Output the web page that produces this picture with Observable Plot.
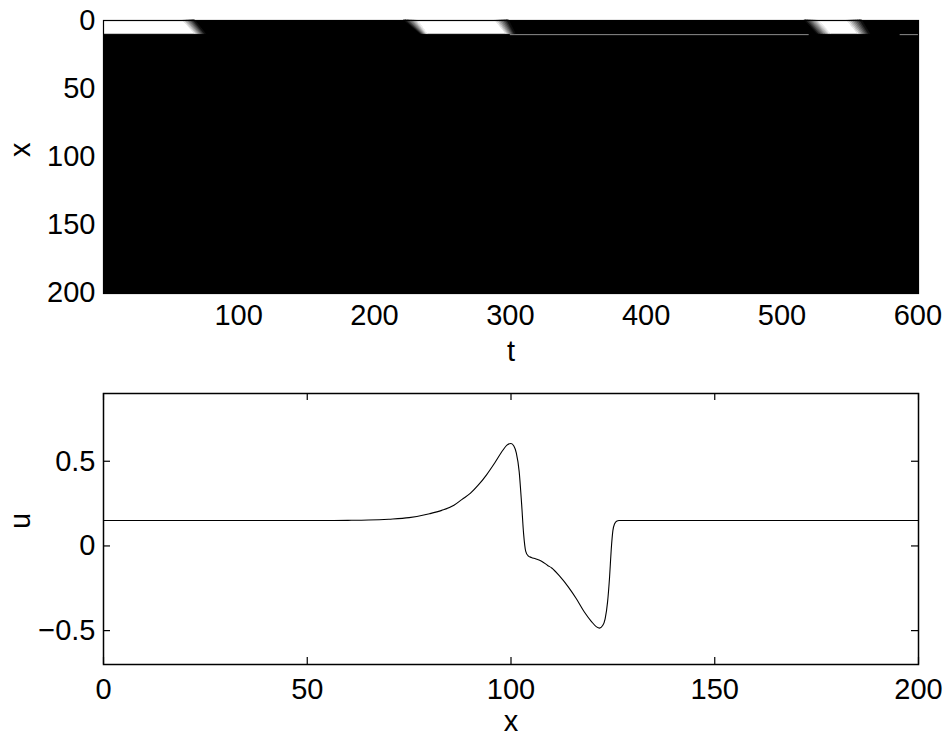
<!DOCTYPE html>
<html>
<head>
<meta charset="utf-8">
<script src="https://cdn.jsdelivr.net/npm/d3@7"></script>
<script src="https://cdn.jsdelivr.net/npm/@observablehq/plot@0.6"></script>
<style>
  body { margin: 0; background: #fff; }
  #chart { width: 950px; }
  #chart svg { display: block; }
</style>
</head>
<body>
<div id="chart"></div>
<script>
const FONT = '"Liberation Sans", Arial, Helvetica, sans-serif';

// ---- space–time map u(x, t) ----
const tTicks = [100, 200, 300, 400, 500, 600];
const xRowTicks = [0, 50, 100, 150, 200];

// The white pulses live in the first rows of x; each pulse is bounded by a
// slanted rising edge (black -> white) and a slanted falling edge (white -> black).
const stripRows = [-0.5, 9.5];           // top and bottom row of the strip
const riseStartTop = [null, 222, 517];
const riseEndTop   = [null, 232, 527];
const riseStartBot = [null, 234, 526];
const riseEndBot   = [null, 239, 536];
const fallStartTop = [59, 289, 548];
const fallEndTop   = [68, 299, 559];
const fallStartBot = [68, 297, 556];
const fallEndBot   = [76, 304, 565];
const tStart = 0.5;

// faint grey row just below the strip
const greyRow = 9.9;
const greyStart = [300, 587];
const greyEnd = [520, 600.5];

// ---- final profile u(x) ----
const profileX = [0, 20, 40, 55, 60, 65, 70, 75, 80, 83, 86, 88, 90, 92, 94, 96, 98, 99, 100,
  100.7, 101.3, 102, 102.6, 103.1, 103.6, 104.2, 105, 106, 107.5, 109, 110, 112, 114, 116, 118,
  119.7, 121, 121.7, 122.5, 123.1, 123.7, 124.2, 124.6, 125, 125.4, 126, 126.5, 150, 200];
const profileU = [0.15, 0.15, 0.15, 0.15, 0.151, 0.153, 0.158, 0.167, 0.19, 0.21, 0.24, 0.275, 0.31, 0.36, 0.42, 0.49, 0.565, 0.595, 0.605,
  0.59, 0.55, 0.44, 0.25, 0.07, -0.03, -0.058, -0.068, -0.076, -0.09, -0.115, -0.13, -0.18, -0.24, -0.31, -0.39,
  -0.445, -0.478, -0.485, -0.47, -0.43, -0.33, -0.18, -0.02, 0.09, 0.13, 0.147, 0.15, 0.15, 0.15];
const uTicks = [-0.5, 0, 0.5];
const profileTicks = [0, 50, 100, 150, 200];

// Build the white cores and the soft, stepped grey edges of each pulse.
const STEPS = 8;
const pulseShapes = [];
let sid = 0;
function pushShape(topL, topR, botL, botR, fill) {
  pulseShapes.push({id: sid, row: stripRows[0], t1: topL, t2: topR, fill});
  pulseShapes.push({id: sid, row: stripRows[1], t1: botL, t2: botR, fill});
  sid++;
}
function pushEdge(a, b, c, d, rising) {
  for (let k = 0; k < STEPS; k++) {
    const f0 = k / STEPS, f1 = (k + 1) / STEPS;
    const g = rising ? (k + 0.5) / STEPS : 1 - (k + 0.5) / STEPS;
    const v = Math.round(255 * g);
    pushShape(a + (b - a) * f0, a + (b - a) * f1, c + (d - c) * f0, c + (d - c) * f1, `rgb(${v},${v},${v})`);
  }
}
for (let i = 0; i < fallStartTop.length; i++) {
  const coreTop = riseEndTop[i] ?? tStart;
  const coreBot = riseEndBot[i] ?? tStart;
  if (riseStartTop[i] != null) pushEdge(riseStartTop[i], riseEndTop[i], riseStartBot[i], riseEndBot[i], true);
  pushShape(coreTop, fallStartTop[i], coreBot, fallStartBot[i], "white");
  pushEdge(fallStartTop[i], fallEndTop[i], fallStartBot[i], fallEndBot[i], false);
}
const greySegments = greyStart.map((s, i) => ({s, e: greyEnd[i], row: greyRow}));

const minusFormat = d => (d < 0 ? "\u2212" + Math.abs(d) : String(d));
const style = {fontFamily: FONT, fontSize: "29px", color: "black", background: "white", overflow: "visible"};

const mapPlot = Plot.plot({
  width: 950, height: 368,
  marginTop: 20, marginBottom: 75, marginLeft: 103, marginRight: 32,
  style,
  x: {domain: [0.5, 600.5]},
  y: {domain: [-0.5, 200.5], reverse: true},
  color: {type: "identity"},
  marks: [
    Plot.frame({fill: "black", stroke: "black"}),
    Plot.ruleY(greySegments, {y: "row", x1: "s", x2: "e", stroke: "#8c8c8c", strokeWidth: 1}),
    Plot.areaX(pulseShapes, {y: "row", x1: "t1", x2: "t2", z: "id", fill: "fill", stroke: "fill", strokeWidth: 0.6, curve: "linear"}),
    Plot.frame({stroke: "black", strokeWidth: 1.2}),
    Plot.axisX(tTicks, {tickSize: 0, tickPadding: 11, label: null, tickFormat: minusFormat}),
    Plot.axisY(xRowTicks, {tickSize: 0, tickPadding: 8, label: null, tickFormat: minusFormat}),
    Plot.text(["t"], {frameAnchor: "bottom", dy: 58, lineAnchor: "middle", fontSize: 29}),
    Plot.text(["x"], {frameAnchor: "left", dx: -83, rotate: -90, lineAnchor: "middle", fontSize: 29})
  ]
});

const FW = 950 - 103 - 32, FH = 368 - 25 - 72, TICK = 7;
const profilePlot = Plot.plot({
  width: 950, height: 368,
  marginTop: 25, marginBottom: 72, marginLeft: 103, marginRight: 32,
  style,
  x: {domain: [0, 200]},
  y: {domain: [-0.7, 0.9]},
  marks: [
    Plot.line(profileX, {x: d => d, y: (d, i) => profileU[i], stroke: "black", strokeWidth: 1.1, curve: "monotone-x"}),
    Plot.frame({stroke: "black", strokeWidth: 1.5}),
    Plot.tickX(profileTicks, {x: d => d, insetTop: FH - TICK, stroke: "black", strokeWidth: 1.2}),
    Plot.tickX(profileTicks, {x: d => d, insetBottom: FH - TICK, stroke: "black", strokeWidth: 1.2}),
    Plot.tickY(uTicks, {y: d => d, insetRight: FW - TICK, stroke: "black", strokeWidth: 1.2}),
    Plot.tickY(uTicks, {y: d => d, insetLeft: FW - TICK, stroke: "black", strokeWidth: 1.2}),
    Plot.axisX(profileTicks, {tickSize: 0, tickPadding: 14, label: null, tickFormat: minusFormat}),
    Plot.axisY(uTicks, {tickSize: 0, tickPadding: 8, label: null, tickFormat: minusFormat}),
    Plot.text(["x"], {frameAnchor: "bottom", dy: 57, lineAnchor: "middle", fontSize: 29}),
    Plot.text(["u"], {frameAnchor: "left", dx: -83, rotate: -90, lineAnchor: "middle", fontSize: 29})
  ]
});

const chart = document.getElementById("chart");
chart.appendChild(mapPlot);
chart.appendChild(profilePlot);
</script>
</body>
</html>
